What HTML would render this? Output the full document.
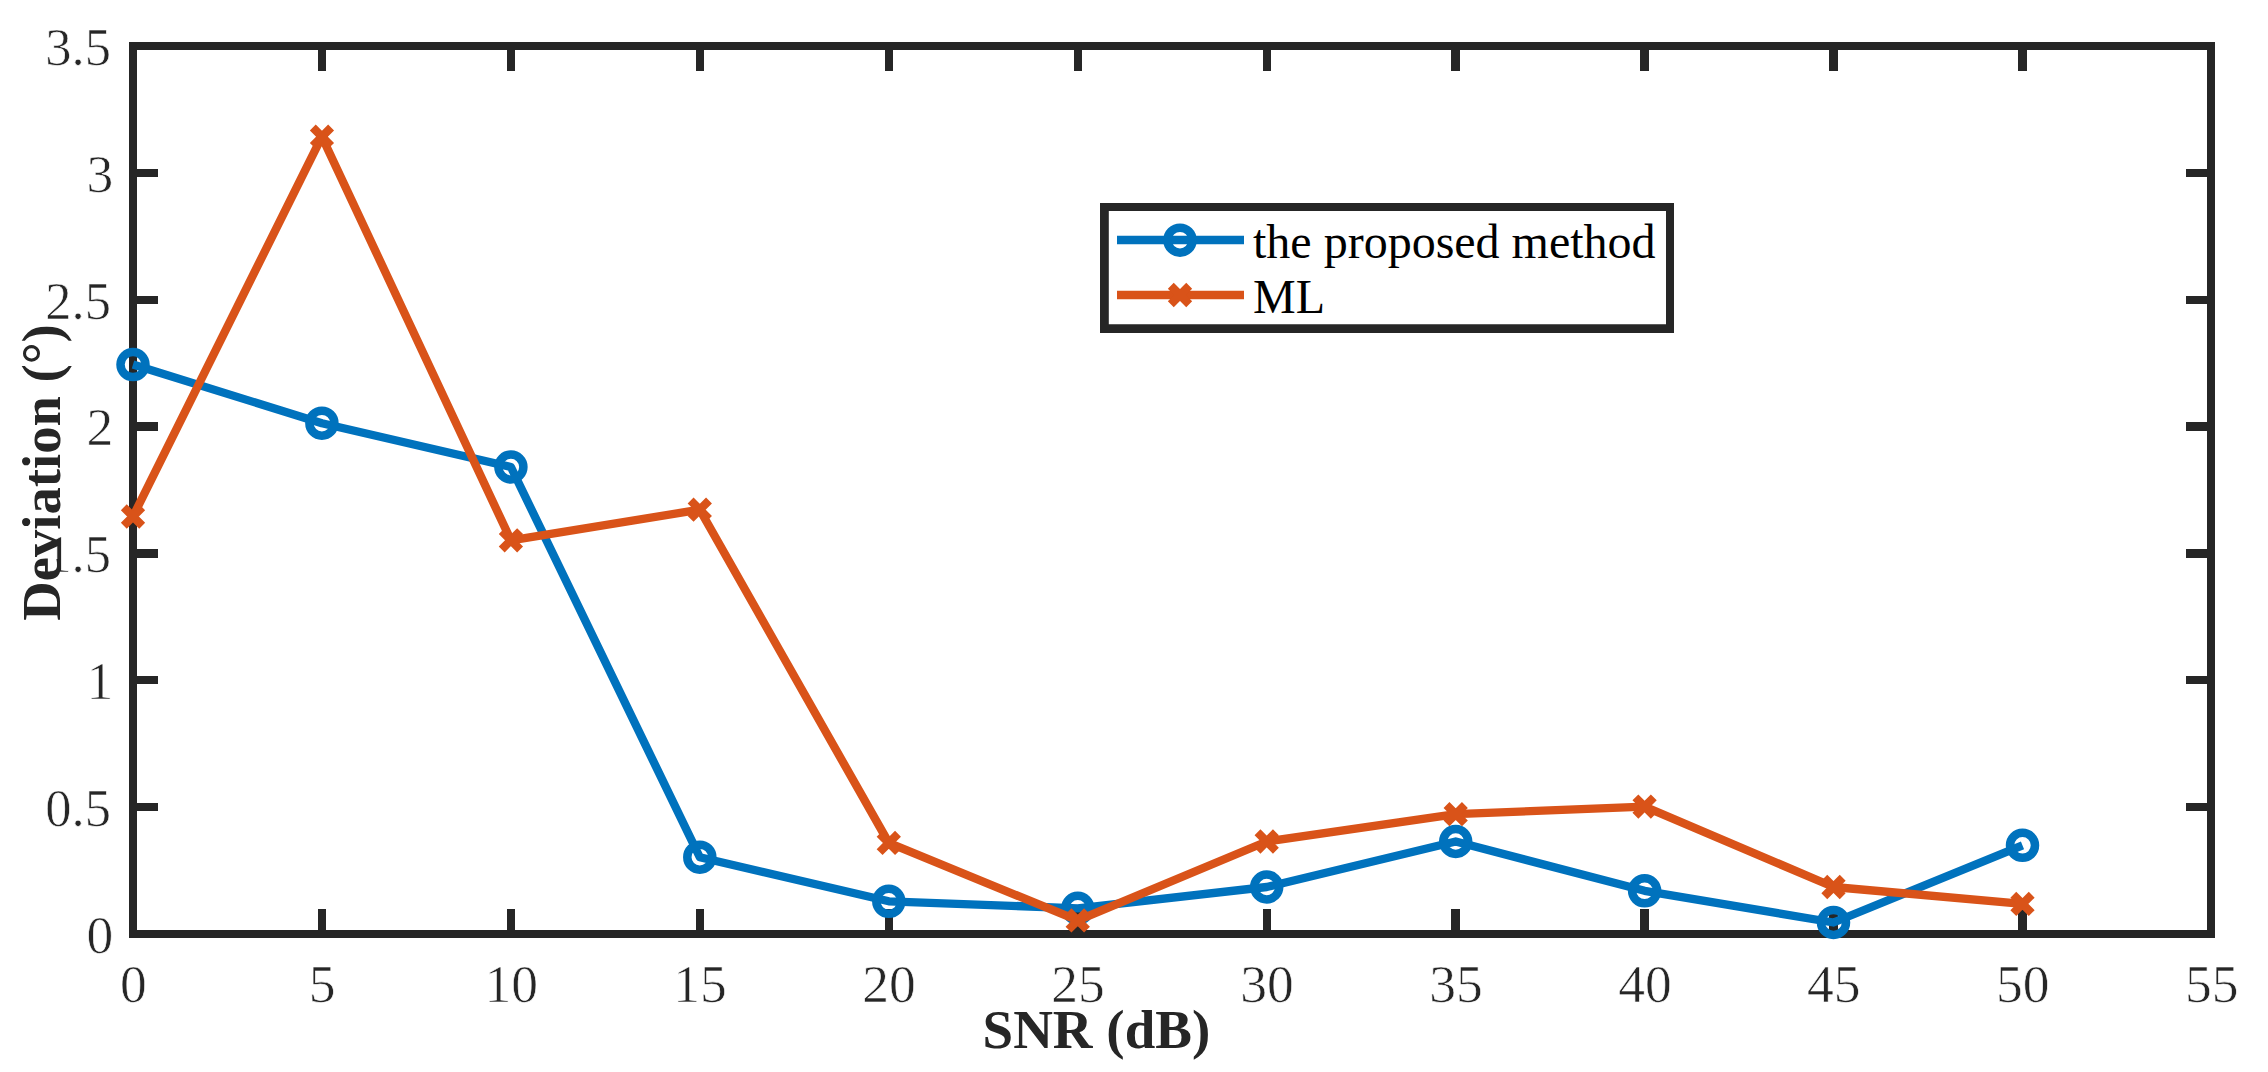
<!DOCTYPE html>
<html lang="en"><head><meta charset="utf-8"><title>Deviation vs SNR</title>
<style>html,body{margin:0;padding:0;background:#fff;}body{width:2268px;height:1072px;overflow:hidden;}svg{display:block;}text{font-family:"Liberation Serif","Times New Roman",serif;}.tk{font-size:52px;fill:#262626;stroke:#fff;stroke-width:0.6px;}.lb{font-size:55px;font-weight:bold;fill:#262626;}.lg{font-size:48px;fill:#000;}</style></head><body>
<svg width="2268" height="1072" viewBox="0 0 2268 1072">
<rect x="0" y="0" width="2268" height="1072" fill="#fff"/>
<path d="M129 42H2215V938H129ZM137 50V930H2207V50ZM318 909H326V930H318ZM318 50H326V71H318ZM507 909H515V930H507ZM507 50H515V71H507ZM696 909H704V930H696ZM696 50H704V71H696ZM885 909H893V930H885ZM885 50H893V71H885ZM1074 909H1082V930H1074ZM1074 50H1082V71H1074ZM1263 909H1271V930H1263ZM1263 50H1271V71H1263ZM1451 909H1460V930H1451ZM1451 50H1460V71H1451ZM1640 909H1649V930H1640ZM1640 50H1649V71H1640ZM1829 909H1838V930H1829ZM1829 50H1838V71H1829ZM2018 909H2027V930H2018ZM2018 50H2027V71H2018ZM137 803H158V811H137ZM2186 803H2207V811H2186ZM137 676H158V684H137ZM2186 676H2207V684H2186ZM137 549H158V558H137ZM2186 549H2207V558H2186ZM137 422H158V431H137ZM2186 422H2207V431H2186ZM137 296H158V304H137ZM2186 296H2207V304H2186ZM137 169H158V177H137ZM2186 169H2207V177H2186Z" fill="#262626" fill-rule="evenodd"/>
<text class="tk" transform="translate(133.3 1001.8) scale(1.03 1)" text-anchor="middle">0</text>
<text class="tk" transform="translate(322.2 1001.8) scale(1.03 1)" text-anchor="middle">5</text>
<text class="tk" transform="translate(511.2 1001.8) scale(1.03 1)" text-anchor="middle">10</text>
<text class="tk" transform="translate(700.1 1001.8) scale(1.03 1)" text-anchor="middle">15</text>
<text class="tk" transform="translate(889.1 1001.8) scale(1.03 1)" text-anchor="middle">20</text>
<text class="tk" transform="translate(1078.0 1001.8) scale(1.03 1)" text-anchor="middle">25</text>
<text class="tk" transform="translate(1267.0 1001.8) scale(1.03 1)" text-anchor="middle">30</text>
<text class="tk" transform="translate(1456.0 1001.8) scale(1.03 1)" text-anchor="middle">35</text>
<text class="tk" transform="translate(1644.9 1001.8) scale(1.03 1)" text-anchor="middle">40</text>
<text class="tk" transform="translate(1833.8 1001.8) scale(1.03 1)" text-anchor="middle">45</text>
<text class="tk" transform="translate(2022.8 1001.8) scale(1.03 1)" text-anchor="middle">50</text>
<text class="tk" transform="translate(2211.8 1001.8) scale(1.03 1)" text-anchor="middle">55</text>
<text class="tk" transform="translate(113.2 952.8) scale(1.03 1)" text-anchor="end">0</text>
<text class="tk" transform="translate(111.0 825.9) scale(1.01 1)" text-anchor="end">0.5</text>
<text class="tk" transform="translate(113.2 699.1) scale(1.03 1)" text-anchor="end">1</text>
<text class="tk" transform="translate(111.0 572.2) scale(1.01 1)" text-anchor="end">1.5</text>
<text class="tk" transform="translate(113.2 445.4) scale(1.03 1)" text-anchor="end">2</text>
<text class="tk" transform="translate(111.0 318.5) scale(1.01 1)" text-anchor="end">2.5</text>
<text class="tk" transform="translate(113.2 191.7) scale(1.03 1)" text-anchor="end">3</text>
<text class="tk" transform="translate(111.0 64.8) scale(1.01 1)" text-anchor="end">3.5</text>
<text class="lb" x="1096.4" y="1047.9" text-anchor="middle">SNR (dB)</text>
<text class="lb" transform="translate(60 472.5) rotate(-90) scale(0.993 1)" text-anchor="middle">Deviation (°)</text>
<g fill="none" stroke="#0072BD" stroke-width="8.33" stroke-linejoin="round">
<polyline points="133.0,364.6 321.9,423.2 510.9,467.0 699.8,857.2 888.8,901.3 1077.8,908.3 1266.7,887.0 1455.7,841.5 1644.6,890.8 1833.5,922.5 2022.5,845.3"/>
<circle cx="133.0" cy="364.6" r="12.5" stroke-width="8.5"/>
<circle cx="321.9" cy="423.2" r="12.5" stroke-width="8.5"/>
<circle cx="510.9" cy="467.0" r="12.5" stroke-width="8.5"/>
<circle cx="699.8" cy="857.2" r="12.5" stroke-width="8.5"/>
<circle cx="888.8" cy="901.3" r="12.5" stroke-width="8.5"/>
<circle cx="1077.8" cy="908.3" r="12.5" stroke-width="8.5"/>
<circle cx="1266.7" cy="887.0" r="12.5" stroke-width="8.5"/>
<circle cx="1455.7" cy="841.5" r="12.5" stroke-width="8.5"/>
<circle cx="1644.6" cy="890.8" r="12.5" stroke-width="8.5"/>
<circle cx="1833.5" cy="922.5" r="12.5" stroke-width="8.5"/>
<circle cx="2022.5" cy="845.3" r="12.5" stroke-width="8.5"/>
</g>
<g fill="none" stroke="#D95319" stroke-width="8.33" stroke-linejoin="round">
<polyline points="133.0,516.5 321.9,136.7 510.9,540.3 699.8,509.7 888.8,842.9 1077.8,920.4 1266.7,841.5 1455.7,814.2 1644.6,806.6 1833.5,887.0 2022.5,903.9"/>
<path d="M123.8 507.3L142.2 525.7M123.8 525.7L142.2 507.3M312.8 127.5L331.1 145.9M312.8 145.9L331.1 127.5M501.7 531.1L520.1 549.5M501.7 549.5L520.1 531.1M690.6 500.5L709.0 518.9M690.6 518.9L709.0 500.5M879.6 833.7L898.0 852.1M879.6 852.1L898.0 833.7M1068.5 911.2L1087.0 929.6M1068.5 929.6L1087.0 911.2M1257.5 832.3L1275.9 850.7M1257.5 850.7L1275.9 832.3M1446.5 805.0L1464.9 823.4M1446.5 823.4L1464.9 805.0M1635.4 797.4L1653.8 815.8M1635.4 815.8L1653.8 797.4M1824.3 877.8L1842.7 896.2M1824.3 896.2L1842.7 877.8M2013.3 894.7L2031.7 913.1M2013.3 913.1L2031.7 894.7"/>
</g>
<rect x="1100" y="203" width="574" height="130" fill="#fff"/>
<path d="M1100 203H1674V333H1100ZM1108.8 211V324.2H1666V211Z" fill="#262626" fill-rule="evenodd"/>
<g fill="none" stroke-width="8.33">
<path d="M1117 240H1244" stroke="#0072BD"/><circle cx="1180" cy="240.2" r="12.5" stroke="#0072BD" stroke-width="8.5"/>
<path d="M1117 295H1244" stroke="#D95319"/><path d="M1170.8 285.8L1189.2 304.2M1170.8 304.2L1189.2 285.8" stroke="#D95319"/>
</g>
<text class="lg" x="1253" y="258.2">the proposed method</text>
<text class="lg" x="1253" y="312.5">ML</text>
</svg></body></html>
